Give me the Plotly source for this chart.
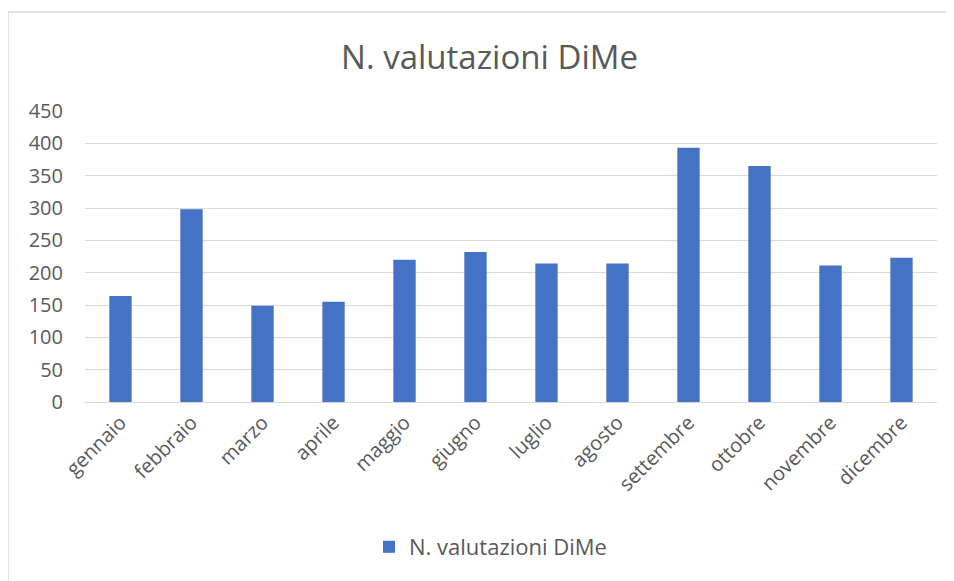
import plotly.graph_objects as go

months = ["gennaio", "febbraio", "marzo", "aprile", "maggio", "giugno",
          "luglio", "agosto", "settembre", "ottobre", "novembre", "dicembre"]
valutazioni = [164, 298, 149, 155, 220, 232, 214, 214, 393, 365, 211, 223]
y_ticks = [0, 50, 100, 150, 200, 250, 300, 350, 400, 450]
series_name = "N. valutazioni DiMe"
title_text = "N. valutazioni DiMe"

OFF = 8  # page body margin offset
W, H = 954 - OFF, 581 - OFF
ML, MT = 85 - OFF, 111 - OFF
MR = W - (937 - OFF)
MB = H - (402 - OFF)
pw = W - ML - MR
ph = H - MT - MB

def px_x(x):
    return (x - OFF - ML) / pw

def px_y(y):
    return (H - MB - (y - OFF)) / ph

FONT = "Open Sans"
GRAY = "#595959"
BORDER = "#D9D9D9"

fig = go.Figure()
fig.add_trace(go.Bar(
    x=months, y=valutazioni, name=series_name,
    marker=dict(color="#4472C4", line=dict(width=0)),
    showlegend=True,
))

fig.update_layout(
    width=W, height=H,
    margin=dict(l=ML, r=MR, t=MT, b=MB),
    paper_bgcolor="white", plot_bgcolor="white",
    bargap=0.685,
    font=dict(family=FONT, color=GRAY),
    title=dict(text=title_text, x=(489.5 - OFF) / W, xref="container", xanchor="center",
               y=1 - (57 - OFF) / H, yref="container", yanchor="middle",
               font=dict(family=FONT, size=33, color=GRAY)),
    showlegend=True,
    legend=dict(orientation="h", x=px_x(369), xanchor="left",
                y=px_y(547), yanchor="middle",
                font=dict(family=FONT, size=22, color=GRAY),
                bgcolor="rgba(0,0,0,0)", itemwidth=30),
    xaxis=dict(tickangle=-45, tickfont=dict(family=FONT, size=20, color=GRAY),
               showgrid=False, showline=True, linecolor=BORDER, linewidth=1,
               ticks="", automargin=False),
    yaxis=dict(range=[0, 450], tickvals=y_ticks, ticktext=[str(v) for v in y_ticks],
               tickfont=dict(family=FONT, size=20, color=GRAY),
               showgrid=True, gridcolor=BORDER, gridwidth=1,
               zeroline=False, showline=False, ticks="", ticklabelstandoff=21,
               automargin=False),
    shapes=[
        dict(type="line", xref="paper", yref="paper",
             x0=px_x(8), x1=px_x(954), y0=px_y(12), y1=px_y(12),
             line=dict(color=BORDER, width=1.5), layer="below"),
        dict(type="line", xref="paper", yref="paper",
             x0=px_x(8), x1=px_x(8), y0=px_y(12), y1=px_y(581),
             line=dict(color=BORDER, width=1.5), layer="below"),
    ],
)

fig.write_html("out.html")
